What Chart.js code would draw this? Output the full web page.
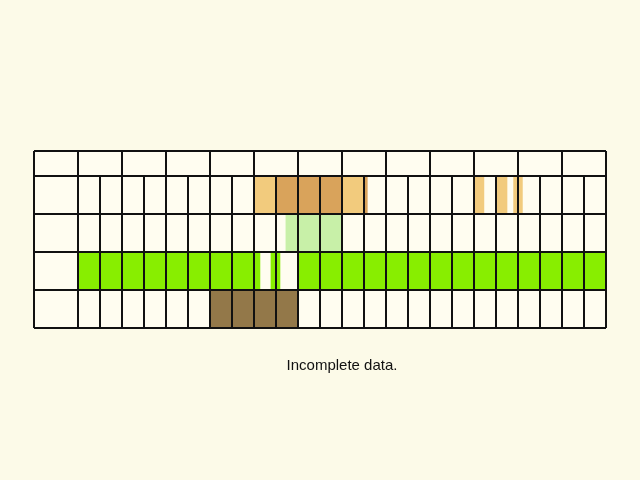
<!DOCTYPE html>
<html>
<head>
<meta charset="utf-8">
<script src="https://cdn.jsdelivr.net/npm/chart.js@4/dist/chart.umd.min.js"></script>
<style>
  html, body { margin: 0; padding: 0; background: #fcfae8; }
  #wrap { position: relative; width: 640px; height: 480px; }
  #note { position: absolute; left: 0; width: 684px; top: 356px; text-align: center;
          font: 15px "Liberation Sans", Arial, sans-serif; color: #111; }
</style>
</head>
<body>
<div id="wrap">
  <canvas id="chart" width="640" height="480"></canvas>
  <div id="note">Incomplete data.</div>
</div>
<script>
// units: half-months, 0 = start of January, 24 = end of December
const months = ['Jan', 'Feb', 'Mar', 'April', 'May', 'June', 'July', 'Aug', 'Sept', 'Oct', 'Nov', 'Dec'];
const stages = ['Imago', 'Ova', 'Larva', 'Pupa'];

const imagoLight = [[8, 9], [12, 13], [18, 18.45], [19, 19.5], [19.8, 20.2]];
const imagoDark = [[9, 12], [13, 13.15]];
const ovaSpans = [[9.45, 11.95]];
const larvaSpans = [[0, 8.27], [8.77, 9.18], [10, 24]];
const pupaSpans = [[6, 10]];

const cellColor = '#fffdf0';

function spans(list, stage) {
    return list.map(s => ({ x: s, y: stage }));
}

// cream cell background + black grid drawn from the scales
const gridPlugin = {
    id: 'grid',
    beforeDatasetsDraw(chart) {
        const { ctx, chartArea: a } = chart;
        ctx.save();
        ctx.fillStyle = cellColor;
        ctx.fillRect(a.left - 44, a.top - 25, a.right - a.left + 44, a.bottom - a.top + 25);
        ctx.restore();
    },
    afterDatasetsDraw(chart) {
        const { ctx, chartArea: a, scales: { x, y } } = chart;
        const left = a.left - 44, top = a.top - 25;
        ctx.save();
        ctx.strokeStyle = '#111';
        ctx.lineWidth = 2;
        ctx.beginPath();
        // horizontal row lines
        const rowLines = [top, a.top];
        stages.forEach((s, i) => rowLines.push(y.getPixelForValue(i) + (a.bottom - a.top) / stages.length / 2));
        rowLines.forEach(py => { ctx.moveTo(left, py); ctx.lineTo(a.right, py); });
        // vertical lines
        ctx.moveTo(left, top); ctx.lineTo(left, a.bottom);
        for (let i = 0; i <= 24; i++) {
            const px = x.getPixelForValue(i);
            ctx.moveTo(px, i % 2 === 0 ? top : a.top);
            ctx.lineTo(px, a.bottom);
        }
        ctx.stroke();
        ctx.restore();
    }
};

const common = { grouped: false, barPercentage: 1, categoryPercentage: 1, borderWidth: 0 };

new Chart(document.getElementById('chart'), {
    type: 'bar',
    data: {
        labels: stages,
        datasets: [
            { ...common, data: spans(imagoLight, 'Imago'), backgroundColor: '#f2cb7d' },
            { ...common, data: spans(imagoDark, 'Imago'), backgroundColor: '#d9a35b' },
            { ...common, data: spans(ovaSpans, 'Ova'), backgroundColor: '#c8f0a8' },
            { ...common, data: spans(larvaSpans, 'Larva'), backgroundColor: '#88ee00' },
            { ...common, data: spans(pupaSpans, 'Pupa'), backgroundColor: '#937849' }
        ]
    },
    options: {
        indexAxis: 'y',
        responsive: false,
        animation: false,
        layout: { padding: { left: 34, right: 34, top: 151, bottom: 152 } },
        plugins: { legend: { display: false }, tooltip: { enabled: false } },
        scales: {
            x: {
                type: 'linear',
                position: 'top',
                min: 0,
                max: 24,
                grid: { display: false },
                border: { display: false },
                afterFit(s) { s.height = 25; },
                afterBuildTicks(s) { s.ticks = months.map((m, i) => ({ value: i * 2 + 1 })); },
                ticks: {
                    autoSkip: false,
                    maxRotation: 0,
                    padding: 6,
                    color: '#111',
                    font: { family: 'Liberation Sans', size: 12 },
                    callback: v => months[(v - 1) / 2]
                }
            },
            y: {
                grid: { display: false },
                border: { display: false },
                afterFit(s) { s.width = 44; },
                ticks: {
                    crossAlign: 'far',
                    padding: 4,
                    color: '#111',
                    font: { family: 'Liberation Sans', size: 12 }
                }
            }
        }
    },
    plugins: [gridPlugin]
});
</script>
</body>
</html>
